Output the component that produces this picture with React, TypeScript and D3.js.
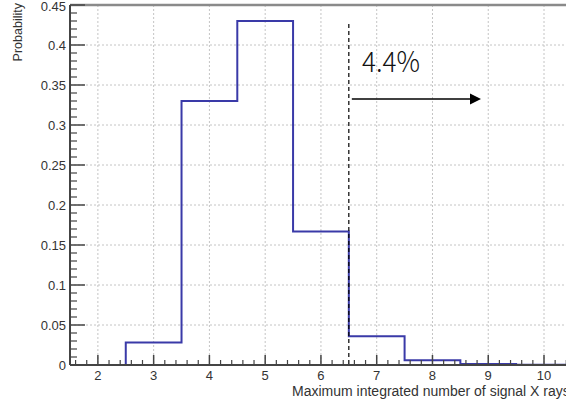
import React from "react";
import * as d3 from "d3";

const binEdges = [1.5, 2.5, 3.5, 4.5, 5.5, 6.5, 7.5, 8.5, 9.5, 10.5];
const binValues = [0, 0.028, 0.33, 0.43, 0.167, 0.036, 0.006, 0.0012, 0.0004];
const xTicks = [2, 3, 4, 5, 6, 7, 8, 9, 10];
const yTicks = [0, 0.05, 0.1, 0.15, 0.2, 0.25, 0.3, 0.35, 0.4, 0.45];
const yTickLabels = ["0", "0.05", "0.1", "0.15", "0.2", "0.25", "0.3", "0.35", "0.4", "0.45"];
const cutValue = 6.5;
const annotationText = "4.4%";
const xTitle = "Maximum integrated number of signal X rays";
const yTitle = "Probability";

const W = 566;
const H = 403;

export default function App() {
  const left = 70;
  const right = 70 + (10.5 - 1.5) * (474 / 8.5);
  const top = 5;
  const bottom = 365;
  const x = d3.scaleLinear().domain([1.5, 10.5]).range([left, right]);
  const y = d3.scaleLinear().domain([0, 0.45]).range([bottom, top]);

  const pts: [number, number][] = [[binEdges[0], 0]];
  binValues.forEach((v, i) => {
    pts.push([binEdges[i], v]);
    pts.push([binEdges[i + 1], v]);
  });
  const line = d3
    .line<[number, number]>()
    .x((d) => x(d[0]))
    .y((d) => y(d[1]));

  const xMinor: number[] = d3.range(1.6, 10.5, 0.2).map((v) => +v.toFixed(2)).filter((v) => Math.abs(v - Math.round(v)) > 1e-6);
  const yMinor: number[] = d3.range(0.01, 0.45, 0.01).map((v) => +v.toFixed(3)).filter((v) => Math.abs(v / 0.05 - Math.round(v / 0.05)) > 1e-6);

  const font = "'Liberation Sans', Arial, Helvetica, sans-serif";
  const axisColor = "#444";
  const gridColor = "#c4c4c4";

  return (
    <div style={{ position: "absolute", left: 0, top: 0 }}>
      <svg width={W} height={H} style={{ display: "block", background: "#fff" }}>
        <defs>
          <clipPath id="plotclip">
            <rect x={left} y={top} width={right - left} height={bottom - top} />
          </clipPath>
        </defs>
        {/* grid */}
        {xTicks.map((t) => (
          <line key={"gx" + t} x1={x(t)} x2={x(t)} y1={top} y2={bottom} stroke={gridColor} strokeWidth={1} strokeDasharray="2,2" />
        ))}
        {yTicks.slice(1, -1).map((t) => (
          <line key={"gy" + t} x1={left} x2={right} y1={y(t)} y2={y(t)} stroke={gridColor} strokeWidth={1} strokeDasharray="2,2" />
        ))}
        {/* frame */}
        <line x1={left} x2={right} y1={top} y2={top} stroke="#8a8a8a" strokeWidth={2.5} />
        <line x1={right} x2={right} y1={top} y2={bottom} stroke="#8a8a8a" strokeWidth={2.5} />
        {/* histogram */}
        <path d={line(pts) || ""} fill="none" stroke="#3a3aa8" strokeWidth={2} clipPath="url(#plotclip)" />
        {/* axes */}
        <line x1={left} x2={right} y1={bottom} y2={bottom} stroke={axisColor} strokeWidth={2} />
        <line x1={left} x2={left} y1={top} y2={bottom} stroke={axisColor} strokeWidth={2} />
        {xTicks.map((t) => (
          <line key={"xt" + t} x1={x(t)} x2={x(t)} y1={bottom} y2={bottom - 10} stroke={axisColor} strokeWidth={1.5} />
        ))}
        {xMinor.map((t) => (
          <line key={"xm" + t} x1={x(t)} x2={x(t)} y1={bottom} y2={bottom - 5} stroke={axisColor} strokeWidth={1.2} />
        ))}
        {yTicks.map((t) => (
          <line key={"yt" + t} x1={left} x2={left + 15} y1={y(t)} y2={y(t)} stroke={axisColor} strokeWidth={1.5} />
        ))}
        {yMinor.map((t) => (
          <line key={"ym" + t} x1={left} x2={left + 7} y1={y(t)} y2={y(t)} stroke={axisColor} strokeWidth={1.2} />
        ))}
        {/* tick labels */}
        {xTicks.map((t) => (
          <text key={"xl" + t} x={x(t)} y={375} textAnchor="middle" dominantBaseline="central" fontFamily={font} fontSize={13} fill="#333">
            {t}
          </text>
        ))}
        {yTicks.map((t, i) => (
          <text key={"yl" + t} x={66} y={Math.max(y(t), 6)} textAnchor="end" dominantBaseline="central" fontFamily={font} fontSize={13} fill="#333">
            {yTickLabels[i]}
          </text>
        ))}
        {/* titles */}
        <text x={292} y={396} fontFamily={font} fontSize={14} fill="#333">
          {xTitle}
        </text>
        <text transform={`translate(22,3) rotate(-90)`} textAnchor="end" fontFamily={font} fontSize={12.5} fill="#333">
          {yTitle}
        </text>
        {/* annotation */}
        <line x1={x(cutValue)} x2={x(cutValue)} y1={24} y2={bottom} stroke="#000" strokeWidth={1.2} strokeDasharray="4,3" />
        <line x1={x(cutValue) + 3} x2={470} y1={99} y2={99} stroke="#000" strokeWidth={1.3} />
        <path d="M470,93.5 L481,99 L470,104.5 Z" fill="#000" />
        <text x={362} y={72} fontFamily="'Noto Sans CJK JP', 'Noto Sans', sans-serif" fontWeight={300} fontSize={28} textLength={58} lengthAdjust="spacingAndGlyphs" fill="#111">
          {annotationText}
        </text>
      </svg>
    </div>
  );
}
